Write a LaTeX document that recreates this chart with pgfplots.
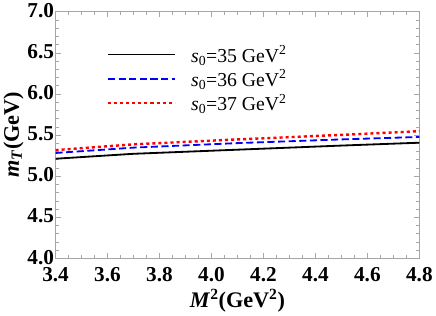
\documentclass[border=0pt]{standalone}
\usepackage{pgfplots}
\pgfplotsset{compat=1.18}
\usepackage{fontspec}
\setmainfont{Liberation Serif}
\begin{document}
\begin{tikzpicture}
\begin{axis}[
  scale only axis, width=360pt, height=244pt,
  xmin=3.4, xmax=4.8, ymin=4.0, ymax=7.0,
  xtick={3.4,3.6,...,4.8}, ytick={4.0,4.5,...,7.0},
  minor x tick num=3, minor y tick num=4,
  tick align=inside, ticks=both,
  axis line style={gray!70}, tick style={gray!70},
  major tick length=5pt, minor tick length=3pt,
  /pgf/number format/assume math mode=true,
  /pgf/number format/.cd, fixed, fixed zerofill, precision=1, /pgfplots/.cd,
  tick label style={font=\fontsize{21}{21}\selectfont\bfseries},
  xticklabel style={yshift=-6pt},
  yticklabel style={xshift=2pt, yshift=1pt},
  xlabel={\fontsize{22}{22}\selectfont\bfseries\textit{M}\textsuperscript{2}(GeV\textsuperscript{2})},
  ylabel={\fontsize{22}{22}\selectfont\bfseries\textit{m}\textsubscript{\textit{T}}(GeV)},
  xlabel style={yshift=0pt},
  ylabel style={yshift=-3pt},
  legend style={draw=none, fill=none, at={(axis cs:3.585,6.64)}, anchor=north west, font=\fontsize{19.5}{19.5}\selectfont, row sep=2pt,
    /tikz/every odd column/.append style={column sep=13pt}},
  legend cell align=left,
  legend image code/.code={\draw[mark repeat=2,mark phase=2,#1] plot coordinates {(0pt,0pt) (33pt,0pt) (66pt,0pt)};},
]
\addplot[black, line width=1.8pt] coordinates {(3.4,5.21) (3.7,5.27) (4.1,5.32) (4.5,5.37) (4.8,5.405)};
\addlegendentry{\textit{s}\textsubscript{0}=35 GeV\textsuperscript{2}}
\addplot[blue, line width=1.8pt, dash pattern=on 7pt off 3.5pt] coordinates {(3.4,5.28) (3.7,5.345) (4.1,5.40) (4.5,5.445) (4.8,5.475)};
\addlegendentry{\textit{s}\textsubscript{0}=36 GeV\textsuperscript{2}}
\addplot[red, line width=2.4pt, dash pattern=on 3pt off 3pt] coordinates {(3.4,5.315) (3.7,5.385) (4.1,5.445) (4.5,5.50) (4.8,5.545)};
\addlegendentry{\textit{s}\textsubscript{0}=37 GeV\textsuperscript{2}}
\end{axis}
\end{tikzpicture}
\end{document}
